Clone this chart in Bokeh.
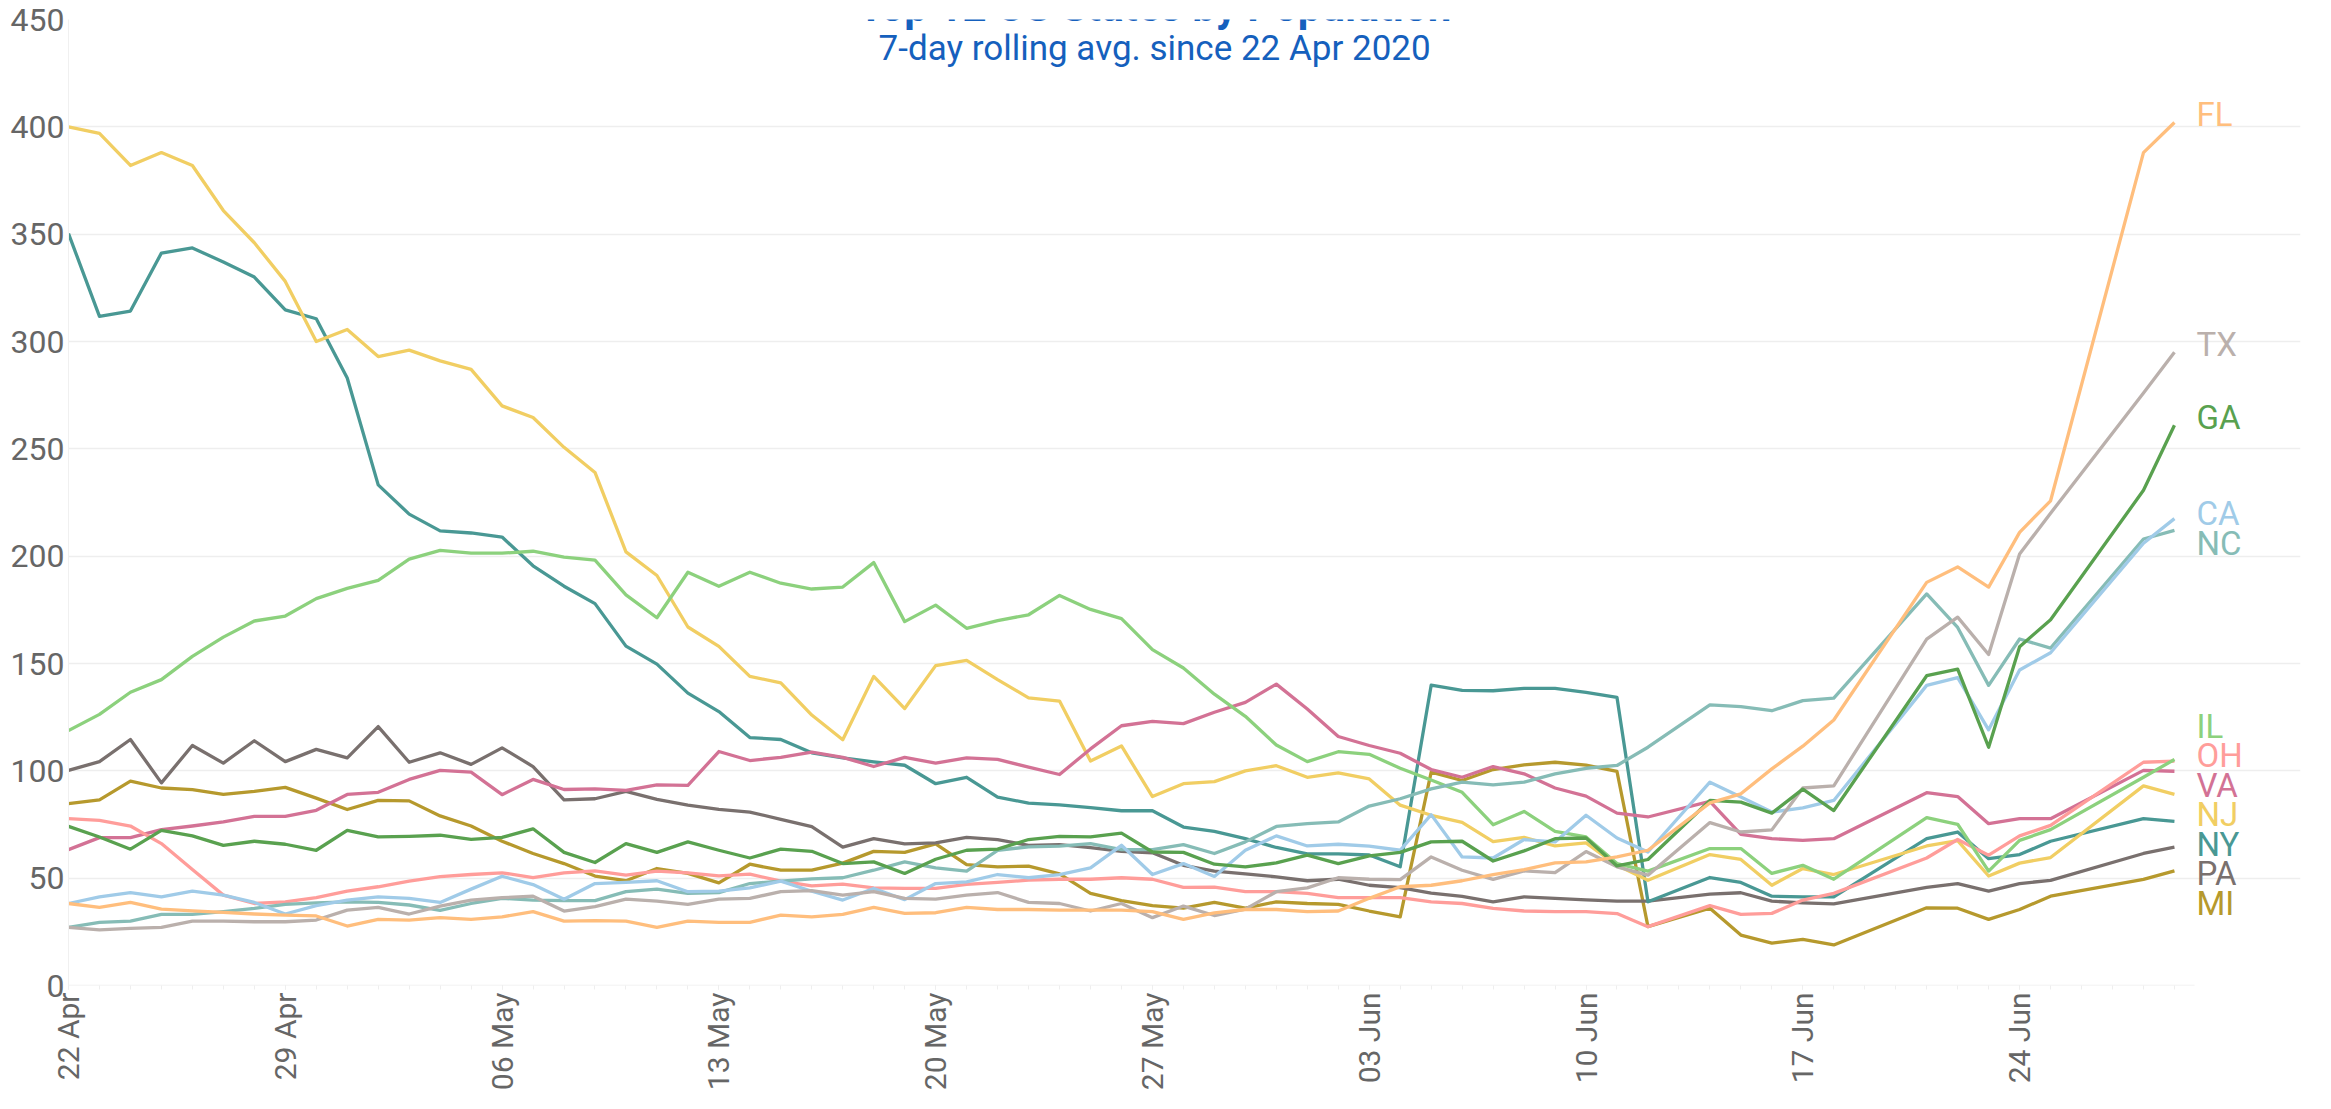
import datetime as dt
import pandas as pd
from bokeh.plotting import figure
from bokeh.models import Range1d, FixedTicker, DatetimeTickFormatter, Label, BoxAnnotation
from bokeh.core.properties import value
from bokeh.embed import file_html
from bokeh.resources import INLINE

# ---------------- data ----------------
start_date = "2020-04-22"
end_date = "2020-06-29"
missing_days = ["2020-06-13", "2020-06-19", "2020-06-20", "2020-06-26", "2020-06-27"]
tick_dates = ["2020-04-22", "2020-04-29", "2020-05-06", "2020-05-13", "2020-05-20",
              "2020-05-27", "2020-06-03", "2020-06-10", "2020-06-17", "2020-06-24"]
y_ticks = [0, 50, 100, 150, 200, 250, 300, 350, 400, 450]

states = ["FL", "TX", "GA", "CA", "NC", "IL", "OH", "VA", "NJ", "NY", "PA", "MI"]

FL = [38.2, 36.4, 38.7, 35.6, 34.8, 34.1, 33.3, 32.8, 32.4, 27.7, 30.8, 30.5, 31.6,
      30.8, 32, 34.4, 30, 30.2, 30, 27.1, 30, 29.4, 29.4, 32.8, 32,
      33.1, 36.4, 33.6, 33.9, 36.4, 35.4, 35.4, 35.1, 35.1, 35.1, 34.4, 30.8, 33.8,
      35.4, 35.4, 34.4, 34.7, 40.6, 46, 46.7, 48.8, 51.7, 54, 57.1, 57.6,
      59.9, 63, 85.1, 89.3, 100.9, 111.5, 123.7,
      187.8, 195, 185.6, 211.1, 225.8, 388, 402]
TX = [27.1, 25.9, 26.6, 27.1, 30, 30, 29.7, 29.7, 30.5, 35.1, 36.4, 33.3, 37,
      39.8, 40.9, 41.6, 34.7, 36.7, 40.2, 39.3, 37.8, 40.2, 40.6, 43.7, 44.2,
      42.1, 43.7, 40.6, 40.2, 42.1, 43.3, 38.7, 38.2, 34.7, 38.2, 31.6, 37, 32.6,
      35.6, 43.7, 45.5, 50.2, 49.5, 49.3, 59.9, 53.7, 49.4, 53.4, 52.6, 62.4,
      55.3, 51.4, 75.9, 71.5, 72.5, 92, 93,
      161.4, 171.6, 154.2, 201, 220, 276, 295]
GA = [74.1, 69.2, 63.5, 72.3, 69.7, 65.3, 67.2, 65.8, 63, 72.3, 69.2, 69.5, 70,
      68.1, 69, 73, 62, 57.3, 66.1, 62, 66.9, 63, 59.4, 63.5, 62.5,
      56.8, 57.6, 52.2, 58.8, 63, 63.5, 68, 69.5, 69.2, 71, 62.2, 62, 56.5,
      55.3, 57.1, 60.7, 56.8, 60.4, 62, 66.9, 67.2, 58, 62.7, 68.4, 68.7,
      55.7, 58.7, 86.2, 85.4, 80.3, 91.5, 81.5,
      144.3, 147.4, 111, 157.8, 170.4, 230.7, 261]
CA = [38.2, 41.3, 43.3, 41.3, 44, 42.1, 38.7, 33.3, 37.2, 39.8, 41.3, 40.6, 38.7,
      44.9, 50.9, 47, 40.2, 47.5, 48, 48.8, 43.7, 44, 45.5, 48.6, 43.9,
      39.8, 45.2, 40, 47.5, 48.3, 51.7, 50.2, 51.7, 54.8, 65.3, 51.7, 56.8, 50.8,
      63, 69.7, 65, 65.8, 64.9, 63, 79.6, 59.9, 59.4, 68, 66.9, 79.3,
      68.7, 62.2, 94.7, 87.8, 80.8, 82.7, 86.2,
      139.8, 143.4, 119.1, 147, 155, 206, 217.5]
NC = [27.1, 29.4, 30, 33.1, 33.1, 34.4, 35.9, 37.8, 38.5, 39, 38.7, 37.5, 35,
      38.2, 40.6, 39.8, 39.5, 39.5, 43.7, 44.9, 42.9, 43.3, 47.5, 48.6, 49.7,
      50.2, 53.7, 57.6, 54.8, 53.3, 63, 64.6, 64.9, 66.1, 63.3, 63.3, 65.6, 61.5,
      66.9, 74.1, 75.4, 76.2, 83.6, 87, 91.6, 94.7, 93.5, 94.7, 98.6, 101.2,
      102.5, 111, 130.7, 129.9, 128, 132.7, 133.9,
      182.4, 166.8, 139.8, 161.4, 157.2, 208, 212]
IL = [118.8, 126.3, 136.6, 142.5, 153.3, 162.3, 169.8, 172.1, 180.2, 185, 188.7, 198.6, 202.7,
      201.4, 201.4, 202.3, 199.6, 198.2, 182, 171.3, 192.5, 186, 192.5, 187.4, 184.7,
      185.6, 197, 169.5, 177.2, 166.4, 170, 172.7, 181.7, 175.2, 170.9, 156.5, 147.9, 135.7,
      125.4, 112, 104.3, 108.9, 107.7, 101.2, 95.7, 90, 74.9, 81.1, 71.8, 69.2,
      56.8, 53.3, 63.8, 63.8, 52.2, 56, 49.5,
      78.2, 75.1, 53.3, 67.6, 72.6, 97, 105.3]
OH = [77.7, 76.9, 74.3, 66.1, 54, 42.1, 38.2, 39, 40.9, 44, 46, 48.6, 50.7,
      51.7, 52.5, 50.3, 52.5, 53.4, 51.4, 53.3, 52.5, 51.1, 51.9, 48.6, 46.4,
      47.2, 45.5, 45.2, 45.2, 47.1, 48, 49.1, 49.5, 49.5, 50.2, 49.5, 45.7, 45.8,
      43.7, 43.7, 42.9, 40.9, 40.9, 40.9, 39, 38.2, 35.9, 34.7, 34.4, 34.4,
      33.5, 27.4, 37.2, 33.1, 33.6, 39.8, 42.9,
      59.4, 68, 60.7, 69.7, 74.6, 104, 104.5]
VA = [63.3, 68.9, 68.9, 72.6, 74.3, 76.2, 78.8, 78.8, 81.6, 89, 90, 96, 100.2,
      99.4, 88.9, 96, 91.3, 91.6, 90.9, 93.5, 93.2, 109, 104.8, 106.3, 108.7,
      106.3, 102, 106.3, 103.6, 106, 105.3, 101.7, 98.3, 110.2, 121, 123, 122, 127.3,
      131.9, 140.4, 128.8, 116, 111.8, 108.2, 100.6, 97, 102, 98.6, 92, 88.2,
      80.3, 78.5, 85.8, 70.4, 68.4, 67.6, 68.4,
      89.8, 88, 75.4, 77.7, 77.7, 100.2, 99.8]
NJ = [400, 397, 382, 388, 382, 361, 346, 328, 300, 305.6, 293, 296, 291,
      287, 270, 264.6, 250.7, 239, 202, 191, 167, 158, 144, 141, 126,
      114.5, 144, 129, 149, 151.5, 142.5, 134, 132.5, 104.6, 111.6, 88, 94, 95,
      100, 102.4, 97, 99, 96.2, 84, 79.3, 76, 67, 69, 65, 66.4,
      56, 49, 61, 58.7, 46.7, 54.5, 51.7,
      65, 67.5, 51, 57, 59.6, 93, 89]
NY = [350.3, 311.7, 314.2, 341.2, 343.6, 337, 330, 314.7, 310.6, 283, 233.2, 219.6, 211.8,
      210.8, 208.9, 195.5, 186, 177.9, 158.1, 149.7, 136.2, 127.6, 115.5, 114.6, 108.4,
      106, 104.2, 102.6, 94, 97, 87.7, 85, 84.1, 82.9, 81.4, 81.4, 73.8, 71.8,
      68.4, 64.3, 61.3, 61.3, 60.8, 55.3, 139.9, 137.5, 137.3, 138.4, 138.4, 136.5,
      134.2, 39, 50.3, 48, 41.6, 41.3, 41.3,
      68.4, 71.5, 59.1, 61, 67.2, 77.7, 76.5]
PA = [100.2, 104.3, 114.6, 94.4, 111.8, 103.6, 114, 104.3, 110, 106, 120.6, 104, 108.4,
      103, 110.7, 102, 86.5, 87, 90.4, 86.7, 84, 82, 80.8, 77.4, 74,
      64.5, 68.4, 66, 66.4, 69, 68, 65.3, 65.6, 64.2, 62.5, 61.8, 56, 53.3,
      52, 50.6, 48.8, 49.5, 46.7, 45.6, 43, 41.5, 39, 41.3, 40.6, 39.9,
      39.3, 39.3, 42.6, 43.2, 39.3, 38.5, 38,
      45.7, 47.5, 44, 47.5, 49, 61.5, 64.5]
MI = [84.7, 86.5, 95.2, 92, 91.2, 89, 90.4, 92.3, 87.3, 82, 86.2, 86, 79,
      74.3, 67.2, 61.5, 56.8, 51, 48.8, 54.5, 52.2, 47.8, 56.5, 53.7, 53.7,
      57, 62.5, 62, 66, 56.3, 55.3, 55.6, 52, 42.9, 39.5, 37.2, 36, 38.7,
      36, 39, 38.2, 37.8, 34.7, 32, 99.4, 95.5, 100.6, 102.8, 104, 102.7,
      99.7, 27.4, 36, 23.5, 19.7, 21.5, 18.9,
      36.2, 36, 30.8, 35.4, 41.6, 49.4, 53.4]

series = {"FL": FL, "TX": TX, "GA": GA, "CA": CA, "NC": NC, "IL": IL,
          "OH": OH, "VA": VA, "NJ": NJ, "NY": NY, "PA": PA, "MI": MI}

colors = {"FL": "#FFBE7D", "TX": "#BAB0AC", "GA": "#59A14F", "CA": "#A0CBE8",
          "NC": "#86BCB6", "IL": "#8CD17D", "OH": "#FF9D9A", "VA": "#D37295",
          "NJ": "#F1CE63", "NY": "#499894", "PA": "#79706E", "MI": "#B6992D"}

title_text = "Top 12 US States by Population"
subtitle_text = "7-day rolling avg. since 22 Apr 2020"

# ---------------- build ----------------
all_days = pd.date_range(start_date, end_date)
dates = [d for d in all_days if d.strftime("%Y-%m-%d") not in missing_days]
for k, v in series.items():
    assert len(v) == len(dates), (k, len(v), len(dates))

W, H = 2315, 1093
ML, MR, MT, MB = 68, 15, 19, 107
FONT = "Roboto"
BLUE = "#1560BD"
GRAY = "#666666"

x0 = pd.Timestamp(start_date)
x_end = x0 + pd.Timedelta(days=72.07)

p = figure(width=W, height=H, x_axis_type="datetime", output_backend="svg",
           toolbar_location=None, x_range=Range1d(x0, x_end), y_range=Range1d(0, 450),
           min_border_left=ML, min_border_right=MR, min_border_top=MT, min_border_bottom=MB)
p.outline_line_color = None
p.background_fill_color = "white"
p.border_fill_color = "white"

# grid (zero line drawn separately, it stops just after the last date)
p.xgrid.grid_line_color = None
p.ygrid.grid_line_color = "#eeeeee"
p.ygrid.grid_line_width = 1.5
p.ygrid.ticker = FixedTicker(ticks=[t for t in y_ticks if t != 0])
p.segment(x0=[dates[0]], y0=[0], x1=[dates[-1] + pd.Timedelta(days=0.65)], y1=[0],
          line_color="#eeeeee", line_width=1.5)

# y axis
p.yaxis.ticker = FixedTicker(ticks=y_ticks)
p.yaxis.axis_line_color = "#f0f0f0"
p.yaxis.major_tick_line_color = None
p.yaxis.minor_tick_line_color = None
p.yaxis.major_tick_out = 0
p.yaxis.major_tick_in = 0
p.yaxis.minor_tick_out = 0
p.yaxis.minor_tick_in = 0
p.yaxis.major_label_text_font = FONT
p.yaxis.major_label_text_font_size = "32px"
p.yaxis.major_label_text_color = GRAY
p.yaxis.major_label_standoff = 4

# x axis
tick_ms = [pd.Timestamp(t).value // 10**6 for t in tick_dates]
minor_ms = [d.value // 10**6 for d in all_days]
p.xaxis.ticker = FixedTicker(ticks=tick_ms, minor_ticks=minor_ms)
p.xaxis.formatter = DatetimeTickFormatter(days="%d %b", months="%d %b", hours="%d %b")
p.xaxis.major_label_orientation = 3.14159265 / 2
p.xaxis.axis_line_color = None
p.xaxis.major_tick_line_color = "#e6e6e6"
p.xaxis.minor_tick_line_color = "#eeeeee"
p.xaxis.major_tick_out = 4
p.xaxis.major_tick_in = 0
p.xaxis.minor_tick_out = 4
p.xaxis.minor_tick_in = 0
p.xaxis.major_label_text_font = FONT
p.xaxis.major_label_text_font_size = "30px"
p.xaxis.major_label_text_color = GRAY
p.xaxis.major_label_standoff = 3

# white band behind the title block
box = BoxAnnotation(left=x0 + pd.Timedelta(days=18.9), right=x0 + pd.Timedelta(days=51.2),
                    bottom=440, top=470, fill_color="white", fill_alpha=1.0, line_color=None)
p.add_layout(box)

# lines
draw_order = ["MI", "PA", "NY", "NJ", "VA", "OH", "IL", "NC", "CA", "TX", "GA", "FL"]
for s in draw_order:
    p.line(x=dates, y=series[s], line_color=colors[s], line_width=3.3, line_join="round")

# end labels with simple collision avoidance
px_per_unit = (H - MT - MB) / 450.0
gap = 29.5 / px_per_unit
lift = 12.0 / px_per_unit
drop = 7.0 / px_per_unit
order = sorted(states, key=lambda s: -series[s][-1])
targets = [series[s][-1] for s in order]

def layout(cl):
    m = sum(cl) / len(cl)
    top = m + gap * (len(cl) - 1) / 2.0
    return [top - gap * i for i in range(len(cl))]

clusters = []
for t in targets:
    clusters.append([t])
    while len(clusters) > 1:
        a, b = layout(clusters[-2]), layout(clusters[-1])
        if a[-1] - b[0] < gap:
            last = clusters.pop()
            clusters[-1].extend(last)
        else:
            break
label_y = []
for cl in clusters:
    pos = layout(cl)
    if len(cl) == 1:
        pos = [pos[0] + lift]
    elif len(cl) > 2:
        pos = [q - drop for q in pos]
    label_y.extend(pos)

last_date = dates[-1]
p.text(x=[last_date] * len(order), y=label_y, text=order,
       text_color=[colors[s] for s in order], x_offset=22, y_offset=4,
       text_align="left", text_baseline="middle",
       text_font=value(FONT), text_font_size="33px")

# title and subtitle
mid = x0 + pd.Timedelta(days=35.07)
p.add_layout(Label(x=mid, y=456, text=title_text, text_align="center",
                   text_baseline="alphabetic", text_font=FONT, text_font_style="bold",
                   text_font_size="42px", text_color=BLUE))
p.add_layout(Label(x=mid, y=436.5, text=subtitle_text, text_align="center",
                   text_baseline="alphabetic", text_font=FONT,
                   text_font_size="35px", text_color=BLUE))

open("out.html", "w").write(file_html(p, INLINE))
